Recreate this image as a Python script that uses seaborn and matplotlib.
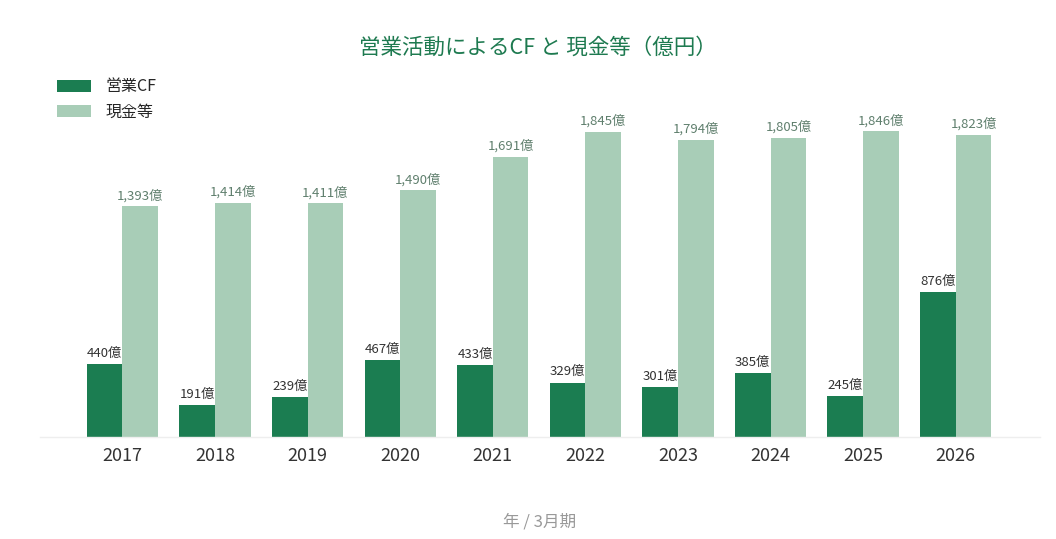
import pandas as pd
import matplotlib.pyplot as plt
import seaborn as sns

years = ["2017", "2018", "2019", "2020", "2021", "2022", "2023", "2024", "2025", "2026"]
cf = [440, 191, 239, 467, 433, 329, 301, 385, 245, 876]
cash = [1393, 1414, 1411, 1490, 1691, 1845, 1794, 1805, 1846, 1823]
series_names = ["営業CF", "現金等"]

df = pd.DataFrame({
    "year": years * 2,
    "value": cf + cash,
    "series": [series_names[0]] * len(years) + [series_names[1]] * len(years),
})

sns.set_theme(style="white")
plt.rcParams['font.family'] = ['Noto Sans CJK JP', 'DejaVu Sans']

fig = plt.figure(figsize=(10.56, 5.39), dpi=100)
ax = fig.add_axes([40 / 1056, 102 / 539, 1000 / 1056, 331 / 539])

colors = {"営業CF": "#1b7d51", "現金等": "#a8cdb7"}
sns.barplot(data=df, x="year", y="value", hue="series", palette=colors,
            width=0.77, saturation=1, linewidth=0, ax=ax)

ax.set_ylim(0, 2000)
ax.set_xlim(-0.89, 9.91)
sns.despine(ax=ax, left=True, top=True, right=True, bottom=False)
ax.spines["bottom"].set_color("#eeeeee")
ax.spines["bottom"].set_linewidth(1)
ax.set_yticks([])
ax.set_ylabel("")
ax.tick_params(axis="x", length=0, labelsize=13, labelcolor="#333333", pad=7)
ax.set_xlabel("年 / 3月期", fontsize=12, color="#999999", labelpad=35)

ax.bar_label(ax.containers[0], labels=[f"{v:,}億" for v in cf],
             padding=3, fontsize=9.5, color="#333333")
ax.bar_label(ax.containers[1], labels=[f"{v:,}億" for v in cash],
             padding=3, fontsize=9.5, color="#5f7f6d")

fig.text(0.509, 0.912, "営業活動によるCF と 現金等（億円）", ha="center", va="center",
         fontsize=15.5, color="#1e7a50")

handles, labels = ax.get_legend_handles_labels()
ax.legend(handles, labels, loc="upper left", bbox_to_anchor=(43 / 1056, 1 - 64 / 539),
          bbox_transform=fig.transFigure, frameon=False, fontsize=11.5,
          handlelength=2.1, handleheight=0.8, labelspacing=0.5, handletextpad=0.9)

fig.savefig("out.png", dpi=100, facecolor="white")
